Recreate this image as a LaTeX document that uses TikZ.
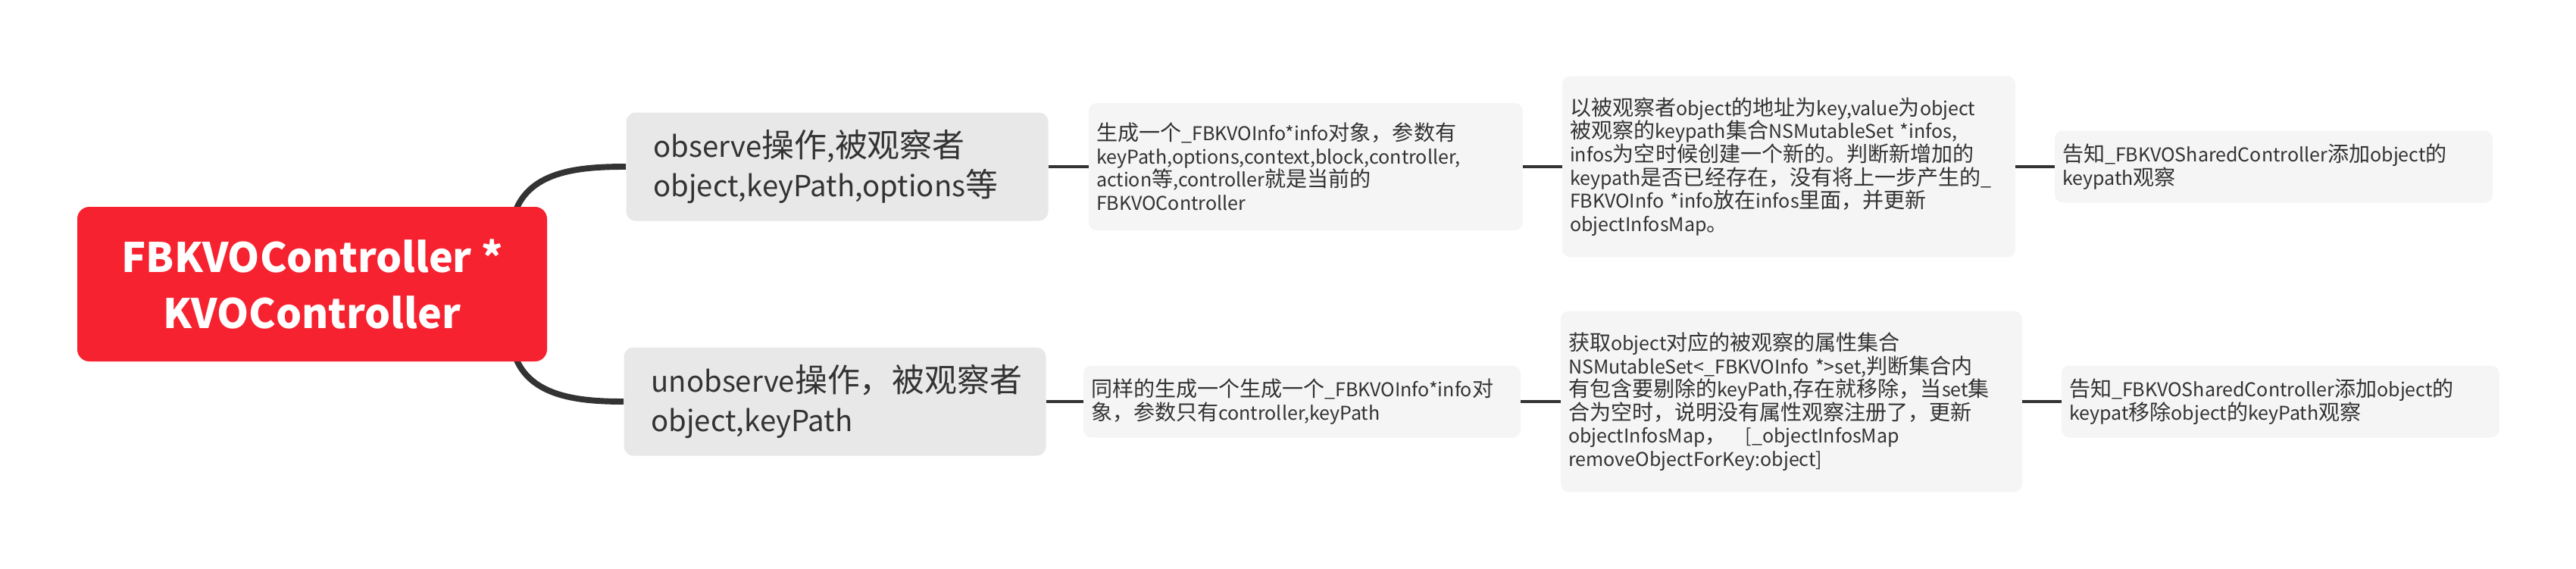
\documentclass[tikz,border=0pt]{standalone}
\usepackage{fontspec}
\setmainfont{Noto Sans CJK SC}
\newfontfamily\cjkfont[Scale=1.12]{Noto Sans CJK SC}
\usetikzlibrary{backgrounds}
\definecolor{rootred}{HTML}{F72230}
\definecolor{branchgray}{HTML}{E8E8E8}
\definecolor{leafgray}{HTML}{F5F5F5}
\definecolor{ink}{HTML}{333333}

% CJK characters a little larger than the Latin ones
\newXeTeXintercharclass\cjkclass
\newcount\cjkcode
\def\markcjk#1#2{\cjkcode=#1 \loop\XeTeXcharclass\cjkcode=\cjkclass \ifnum\cjkcode<#2 \advance\cjkcode by 1 \repeat}
\markcjk{"4E00}{"9FFF}
\markcjk{"3000}{"303F}
\markcjk{"FF00}{"FFEF}
\XeTeXinterchartokenstate=1
\XeTeXinterchartoks 0 \cjkclass = {\cjkfont}
\XeTeXinterchartoks 4095 \cjkclass = {\cjkfont}
\XeTeXinterchartoks \cjkclass 0 = {\rmfamily}
\XeTeXinterchartoks \cjkclass 4095 = {\rmfamily}
\AtBeginDocument{\setlength{\lineskiplimit}{-10pt}}

\begin{document}
\begin{tikzpicture}[
    rootbox/.style={rectangle, rounded corners=9pt, fill=rootred, text=white, minimum width=12.4cm, minimum height=4.08cm, align=center, font=\fontsize{30.5}{41.7}\selectfont\bfseries},
    branch/.style={rectangle, rounded corners=7pt, fill=branchgray, text=ink, inner xsep=0.72cm, text width=9.7cm, minimum height=2.86cm, align=left, font=\fontsize{21.8}{29.6}\selectfont},
    leaf/.style={rectangle, rounded corners=6pt, fill=leafgray, text=ink, inner xsep=0.2cm, align=left, font=\fontsize{14.25}{17.4}\selectfont},
    trunk/.style={draw=ink, line width=4.5pt},
    link/.style={draw=ink, line width=2.8pt}
]
\useasboundingbox (0,7.5) rectangle (68,-7.5);

\node[rootbox] (root) at (8.24,0) {FBKVOController *\\KVOController};

\node[branch] (obs) at (22.1,3.1) {observe操作,被观察者\\object,keyPath,options等};
\node[branch] (unobs) at (22.04,-3.1) {unobserve操作，被观察者\\object,keyPath};

\node[leaf, text width=11.06cm, minimum height=3.36cm] (mkinfo) at (34.47,3.1) {生成一个\_FBKVOInfo*info对象，参数有\\keyPath,options,context,block,controller,\\action等,controller就是当前的\\FBKVOController};
\node[leaf, text width=11.14cm, minimum height=1.9cm] (mkinfo2) at (34.37,-3.1) {同样的生成一个生成一个\_FBKVOInfo*info对\\象，参数只有controller,keyPath};

\node[leaf, text width=11.56cm, minimum height=4.78cm] (addmap) at (47.22,3.1) {以被观察者object的地址为key,value为object\\被观察的keypath集合NSMutableSet *infos,\\infos为空时候创建一个新的。判断新增加的\\keypath是否已经存在，没有将上一步产生的\_\\FBKVOInfo *info放在infos里面，并更新\\objectInfosMap。};
\node[leaf, text width=11.78cm, minimum height=4.78cm] (delmap) at (47.29,-3.1) {获取object对应的被观察的属性集合\\NSMutableSet<\_FBKVOInfo *>set,判断集合内\\有包含要剔除的keyPath,存在就移除，当set集\\合为空时，说明没有属性观察注册了，更新\\objectInfosMap，\ \ \ [\_objectInfosMap\\removeObjectForKey:object]};

\node[leaf, text width=11.16cm, minimum height=1.9cm] (shadd) at (60.02,3.1) {告知\_FBKVOSharedController添加object的\\keypath观察};
\node[leaf, text width=11.16cm, minimum height=1.9cm] (shdel) at (60.2,-3.1) {告知\_FBKVOSharedController添加object的\\keypat移除object的keyPath观察};

\begin{scope}[on background layer]
\draw[trunk] ([xshift=-0.9cm,yshift=-0.3cm]root.north east) to[out=75,in=180] (obs.west);
\draw[trunk] ([xshift=-0.9cm,yshift=0.3cm]root.south east) to[out=-75,in=180] (unobs.west);
\end{scope}

\draw[link] (obs.east) -- (mkinfo.west);
\draw[link] (mkinfo.east) -- (addmap.west);
\draw[link] (addmap.east) -- (shadd.west);
\draw[link] (unobs.east) -- (mkinfo2.west);
\draw[link] (mkinfo2.east) -- (delmap.west);
\draw[link] (delmap.east) -- (shdel.west);

\end{tikzpicture}
\end{document}
